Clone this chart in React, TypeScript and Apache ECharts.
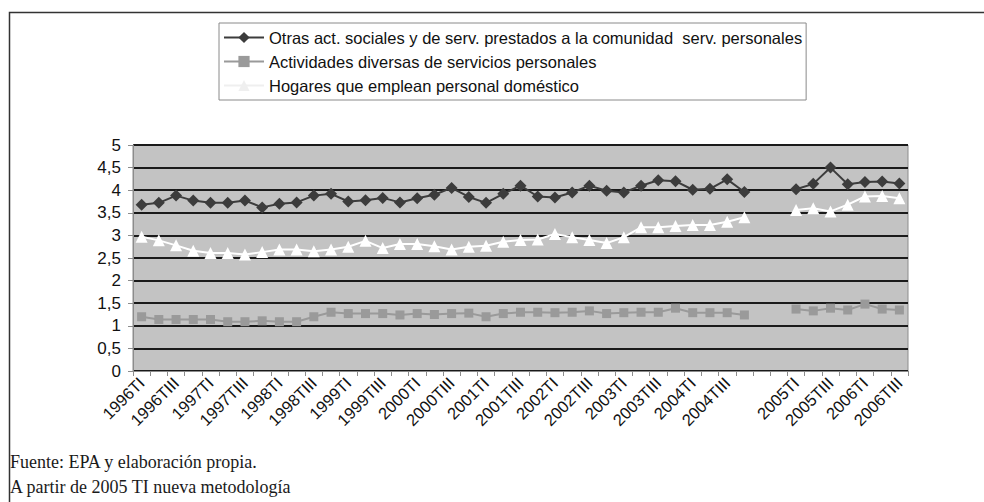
import React, { useEffect, useRef } from "react";
import * as echarts from "echarts";

const categories: string[] = [
  "1996TI", "1996TII", "1996TIII", "1996TIV",
  "1997TI", "1997TII", "1997TIII", "1997TIV",
  "1998TI", "1998TII", "1998TIII", "1998TIV",
  "1999TI", "1999TII", "1999TIII", "1999TIV",
  "2000TI", "2000TII", "2000TIII", "2000TIV",
  "2001TI", "2001TII", "2001TIII", "2001TIV",
  "2002TI", "2002TII", "2002TIII", "2002TIV",
  "2003TI", "2003TII", "2003TIII", "2003TIV",
  "2004TI", "2004TII", "2004TIII", "2004TIV",
  "", "",
  "2005TI", "2005TII", "2005TIII", "2005TIV",
  "2006TI", "2006TII", "2006TIII",
];

const otrasAct: (number | null)[] = [
  3.68, 3.72, 3.88, 3.77, 3.72, 3.72, 3.77, 3.62, 3.70, 3.73, 3.88, 3.92,
  3.75, 3.78, 3.83, 3.73, 3.82, 3.90, 4.05, 3.85, 3.72, 3.92, 4.10, 3.86,
  3.84, 3.95, 4.10, 3.99, 3.95, 4.10, 4.22, 4.20, 4.01, 4.03, 4.24, 3.96,
  null, null,
  4.02, 4.14, 4.50, 4.13, 4.18, 4.19, 4.15,
];

const actividadesDiversas: (number | null)[] = [
  1.20, 1.14, 1.14, 1.14, 1.14, 1.09, 1.09, 1.11, 1.09, 1.09, 1.20, 1.30,
  1.27, 1.27, 1.27, 1.24, 1.27, 1.25, 1.27, 1.28, 1.20, 1.27, 1.30, 1.30,
  1.29, 1.30, 1.33, 1.27, 1.29, 1.30, 1.30, 1.39, 1.29, 1.29, 1.29, 1.24,
  null, null,
  1.37, 1.33, 1.39, 1.35, 1.48, 1.37, 1.35,
];

const hogares: (number | null)[] = [
  2.97, 2.89, 2.78, 2.66, 2.61, 2.61, 2.58, 2.63, 2.69, 2.69, 2.65, 2.69,
  2.75, 2.88, 2.72, 2.81, 2.81, 2.76, 2.69, 2.75, 2.77, 2.86, 2.90, 2.91,
  3.03, 2.96, 2.90, 2.83, 2.96, 3.18, 3.18, 3.21, 3.23, 3.23, 3.30, 3.40,
  null, null,
  3.56, 3.60, 3.53, 3.68, 3.86, 3.87, 3.82,
];

const seriesNames = [
  "Otras act. sociales y de serv. prestados a la comunidad  serv. personales",
  "Actividades diversas de servicios personales",
  "Hogares que emplean personal doméstico",
];

const footnotes = [
  "Fuente: EPA y elaboración propia.",
  "A partir de 2005 TI nueva metodología",
];

const SANS = "'Liberation Sans', Arial, sans-serif";
const SERIF = "'Liberation Serif', 'Times New Roman', serif";

export default function App() {
  const ref = useRef<HTMLDivElement>(null);

  useEffect(() => {
    if (!ref.current) return;
    const chart = echarts.init(ref.current, undefined, { renderer: "svg" });
    chart.setOption({
      animation: false,
      backgroundColor: "#ffffff",
      legend: {
        orient: "vertical",
        left: 219,
        top: 23,
        itemWidth: 40,
        itemHeight: 14,
        itemGap: 7,
        padding: [6, 4, 6, 4],
        borderColor: "#8a8a8a",
        borderWidth: 1,
        textStyle: { fontFamily: SANS, fontSize: 16.5, color: "#111" },
        data: [
          { name: seriesNames[0] },
          { name: seriesNames[1] },
          {
            name: seriesNames[2],
            itemStyle: { color: "#efefef" },
            lineStyle: { color: "#efefef" },
          },
        ],
      },
      grid: {
        left: 133,
        right: 76,
        top: 145,
        bottom: 131,
        show: true,
        backgroundColor: "#c3c3c3",
        borderColor: "#8c8c8c",
        borderWidth: 1,
      },
      xAxis: {
        type: "category",
        data: categories,
        boundaryGap: true,
        axisLine: { lineStyle: { color: "#8c8c8c", width: 1 } },
        axisTick: { show: true, interval: 0, length: 5, lineStyle: { color: "#8c8c8c" } },
        axisLabel: {
          interval: 1,
          rotate: 45,
          margin: 9,
          fontFamily: SANS,
          fontSize: 16.5,
          color: "#111",
        },
        splitLine: { show: false },
      },
      yAxis: {
        type: "value",
        min: 0,
        max: 5,
        interval: 0.5,
        axisLine: { show: true, lineStyle: { color: "#8c8c8c" } },
        axisTick: { show: true, length: 5, lineStyle: { color: "#8c8c8c" } },
        axisLabel: {
          fontFamily: SANS,
          fontSize: 17,
          color: "#111",
          margin: 12,
          formatter: (v: number) => String(v).replace(".", ","),
        },
        splitLine: { show: true, lineStyle: { color: "#1a1a1a", width: 2 } },
      },
      graphic: [
        {
          type: "rect",
          shape: { x: 9.5, y: 12.5, width: 990, height: 520 },
          style: { fill: "none", stroke: "#333", lineWidth: 1.5 },
          silent: true,
          z: -1,
        },
        {
          type: "text",
          left: 10,
          top: 453,
          style: { text: footnotes[0], font: `18px ${SERIF}`, fill: "#1a1a1a" },
        },
        {
          type: "text",
          left: 10,
          top: 478,
          style: { text: footnotes[1], font: `18px ${SERIF}`, fill: "#1a1a1a" },
        },
      ],
      series: [
        {
          name: seriesNames[0],
          type: "line",
          data: otrasAct,
          symbol: "diamond",
          symbolSize: 12,
          showAllSymbol: true,
          lineStyle: { color: "#3c3c3c", width: 2 },
          itemStyle: { color: "#3c3c3c" },
          z: 3,
        },
        {
          name: seriesNames[1],
          type: "line",
          data: actividadesDiversas,
          symbol: "rect",
          symbolSize: 9,
          showAllSymbol: true,
          lineStyle: { color: "#9a9a9a", width: 2 },
          itemStyle: { color: "#9a9a9a" },
          z: 2,
        },
        {
          name: seriesNames[2],
          type: "line",
          data: hogares,
          symbol: "triangle",
          symbolSize: 12,
          showAllSymbol: true,
          lineStyle: { color: "#ffffff", width: 2 },
          itemStyle: { color: "#ffffff" },
          z: 2,
        },
      ],
    });
    return () => chart.dispose();
  }, []);

  return (
    <div
      ref={ref}
      style={{ position: "fixed", left: 0, top: 0, width: 984, height: 502 }}
    />
  );
}
